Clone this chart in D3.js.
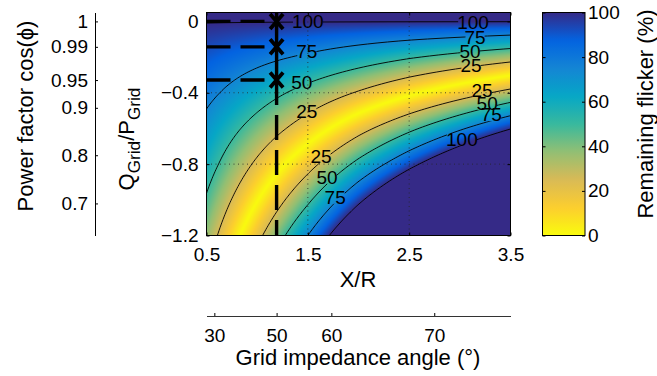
<!DOCTYPE html>
<html><head><meta charset="utf-8">
<script src="https://cdn.jsdelivr.net/npm/d3@7"></script>
<style>
html,body{margin:0;padding:0;background:#fff;}
svg{display:block;font-family:"Liberation Sans",Arial,Helvetica,sans-serif;}
</style></head><body>
<svg id="chart" width="657" height="376"></svg>
<script>
// ---------------- data ----------------
const xrValues = [0.5, 1.0, 1.5, 2.0, 2.5, 3.0, 3.5];          // X/R grid columns
const qpValues = [0.05, 0, -0.2, -0.4, -0.6, -0.8, -1.0, -1.2];   // Q/P grid rows
// signed relative flicker (%), remaining flicker = |value|; rows follow qpValues
const flickerSigned = [
  [104, 106, 108, 111, 113, 115, 118],
  [100.5, 100.5, 100.5, 100.5, 100.5, 100.5, 100.5],
  [90, 81, 72, 62, 52, 43, 34],
  [80, 61, 42, 23, 4, -14, -32],
  [69, 41, 13, -17, -45, -72, -99],
  [59, 21, -17, -56, -93, -129, -165],
  [48, 1, -46, -95, -142, -187, -232],
  [37, -19, -75, -134, -190, -245, -298]
];
const contourLevels = [25, 50, 75, 100];
const xTicks = [0.5, 1.5, 2.5, 3.5];
const yTicks = [0, -0.4, -0.8, -1.2];
const pfTicks = [1, 0.99, 0.95, 0.9, 0.8, 0.7];
const angleTicks = [30, 50, 60, 70];
const cbTicks = [0, 20, 40, 60, 80, 100];
const operatingAngle = 50;              // degrees
const operatingPF = [1, 0.99, 0.95];    // marked power factors
const labelText = ["100", "75", "50", "25", "100", "75", "50", "25", "25", "50", "75", "100", "25", "50", "75"];
const labelXR   = [1.50, 1.49, 1.44, 1.49, 3.13, 3.15, 3.10, 3.11, 3.22, 3.27, 3.31, 3.02, 1.63, 1.69, 1.77];
const labelQP   = [0.0, -0.165, -0.343, -0.505, -0.003, -0.086, -0.165, -0.243, -0.388, -0.46, -0.522, -0.661, -0.756, -0.873, -0.985];
const parulaColors = ["#f9fb0e", "#fcce2e", "#d9ba56", "#92bf73", "#38b99e", "#06a7c6", "#1485d4", "#0363e1", "#352a87"];

// ---------------- layout ----------------
const svg = d3.select("#chart");
const X0 = 206.5, X1 = 510.5, Y0 = 12.5, Y1 = 235.5;
const x = d3.scaleLinear().domain([0.5, 3.5]).range([X0, X1]);
const y = d3.scaleLinear().domain([-1.2, 0.05]).range([Y1, Y0]);
const color = d3.scaleLinear()
  .domain(d3.range(parulaColors.length).map(i => i * 100 / (parulaColors.length - 1)))
  .range(parulaColors).clamp(true);
const tickFont = 19, labelFont = 22;

function fieldAt(k, q) {
  let i = d3.bisectRight(xrValues, k) - 1;
  i = Math.max(0, Math.min(xrValues.length - 2, i));
  const tx = (k - xrValues[i]) / (xrValues[i + 1] - xrValues[i]);
  let j = 0;
  while (j < qpValues.length - 2 && q < qpValues[j + 1]) j++;
  const ty = (q - qpValues[j]) / (qpValues[j + 1] - qpValues[j]);
  const a = flickerSigned[j][i], b = flickerSigned[j][i + 1];
  const c = flickerSigned[j + 1][i], d = flickerSigned[j + 1][i + 1];
  return a * (1 - tx) * (1 - ty) + b * tx * (1 - ty) + c * (1 - tx) * ty + d * tx * ty;
}

const defs = svg.append("defs");
defs.append("clipPath").attr("id", "plotClip")
  .append("rect").attr("x", X0).attr("y", Y0).attr("width", X1 - X0).attr("height", Y1 - Y0);

// ---------------- heatmap ----------------
const W = Math.round(X1 - X0), H = Math.round(Y1 - Y0);
const cv = document.createElement("canvas");
cv.width = W; cv.height = H;
const ctx = cv.getContext("2d");
const img = ctx.createImageData(W, H);
for (let py = 0; py < H; py++) {
  const q = y.invert(Y0 + py + 0.5);
  for (let px = 0; px < W; px++) {
    const k = x.invert(X0 + px + 0.5);
    const c = d3.rgb(color(Math.abs(fieldAt(k, q))));
    const o = (py * W + px) * 4;
    img.data[o] = c.r; img.data[o + 1] = c.g; img.data[o + 2] = c.b; img.data[o + 3] = 255;
  }
}
ctx.putImageData(img, 0, 0);
svg.append("image").attr("x", X0).attr("y", Y0).attr("width", W).attr("height", H)
  .attr("preserveAspectRatio", "none").attr("href", cv.toDataURL());

// ---------------- grid lines ----------------
const grid = svg.append("g").attr("clip-path", "url(#plotClip)")
  .attr("stroke", "#262626").attr("stroke-width", 0.8).attr("stroke-dasharray", "1 3.5");
grid.selectAll("line.gx").data(xTicks.slice(1, -1)).join("line")
  .attr("x1", d => x(d)).attr("x2", d => x(d)).attr("y1", Y0).attr("y2", Y1);
grid.selectAll("line.gy").data(yTicks.slice(1, -1)).join("line")
  .attr("y1", d => y(d)).attr("y2", d => y(d)).attr("x1", X0).attr("x2", X1);

// ---------------- contour labels (text) ----------------
const labelsG = svg.append("g").attr("font-size", tickFont).attr("text-anchor", "middle");
const labelNodes = labelsG.selectAll("text").data(labelText).join("text")
  .attr("x", (d, i) => x(labelXR[i])).attr("y", (d, i) => y(labelQP[i]))
  .attr("dy", "0.36em").attr("fill", "#000").text(d => d);

// mask to break contour lines under labels
const mask = defs.append("mask").attr("id", "labelMask").attr("maskUnits", "userSpaceOnUse")
  .attr("x", 0).attr("y", 0).attr("width", 657).attr("height", 376);
mask.append("rect").attr("x", 0).attr("y", 0).attr("width", 657).attr("height", 376).attr("fill", "white");
labelNodes.each(function () {
  const b = this.getBBox();
  mask.append("rect").attr("x", b.x + 1).attr("y", b.y + b.height * 0.2)
    .attr("width", b.width - 2).attr("height", b.height * 0.6).attr("fill", "black");
});

// ---------------- contour lines ----------------
const M = 3, n = W + 2 * M, m = H + 2 * M;
const samples = new Array(n * m);
for (let j = 0; j < m; j++) {
  const q = y.invert(Y0 - M + j + 0.5);
  for (let i = 0; i < n; i++) {
    samples[j * n + i] = Math.abs(fieldAt(x.invert(X0 - M + i + 0.5), q));
  }
}
const contours = d3.contours().size([n, m]).thresholds(contourLevels)(samples);
const shift = d3.geoTransform({ point: function (px, py) { this.stream.point(X0 - M + px, Y0 - M + py); } });
svg.append("g").attr("clip-path", "url(#plotClip)")
  .append("g").attr("mask", "url(#labelMask)")
  .selectAll("path").data(contours).join("path")
  .attr("d", d3.geoPath(shift)).attr("fill", "none").attr("stroke", "#000").attr("stroke-width", 0.9);
labelsG.raise();

// ---------------- operating point markers ----------------
const qOf = pf => -Math.tan(Math.acos(pf));
const xrOp = Math.tan(operatingAngle * Math.PI / 180);
const op = svg.append("g").attr("clip-path", "url(#plotClip)").attr("stroke", "#000").attr("fill", "none");
op.selectAll("line.h").data(operatingPF).join("line")
  .attr("x1", x(0.5)).attr("x2", x(xrOp)).attr("y1", d => y(qOf(d))).attr("y2", d => y(qOf(d)))
  .attr("stroke-width", 3.4).attr("stroke-dasharray", "24 10");
op.append("line").attr("x1", x(xrOp)).attr("x2", x(xrOp))
  .attr("y1", y(0.05)).attr("y2", y(qOf(d3.min(operatingPF)))).attr("stroke-width", 3.4);
op.append("line").attr("x1", x(xrOp)).attr("x2", x(xrOp))
  .attr("y1", y(qOf(d3.min(operatingPF)))).attr("y2", y(-1.2))
  .attr("stroke-width", 3.4).attr("stroke-dasharray", "25 10");
svg.append("g").selectAll("path").data(operatingPF).join("path")
  .attr("transform", d => `translate(${x(xrOp)},${y(qOf(d))})`)
  .attr("d", "M-6.5,-7.5L6.5,7.5M-6.5,7.5L6.5,-7.5").attr("stroke", "#000").attr("stroke-width", 3.8)
  .attr("fill", "none");

// ---------------- main axes ----------------
const fmtY = d => d === 0 ? "0" : d3.format(".1f")(d);
function styleAxis(g) {
  g.selectAll("text").attr("font-size", tickFont).attr("fill", "#000")
    .attr("font-family", '"Liberation Sans",Arial,Helvetica,sans-serif');
  g.selectAll("line").attr("stroke", "#000");
  g.selectAll(".domain").attr("stroke", "#000");
}
svg.append("g").attr("transform", `translate(${X0},0)`)
  .call(d3.axisLeft(y).tickValues(yTicks).tickFormat(fmtY).tickSizeInner(-3).tickSizeOuter(0).tickPadding(8))
  .call(styleAxis).call(g => g.select(".domain").remove());
svg.append("g").attr("transform", `translate(${X1},0)`)
  .call(d3.axisRight(y).tickValues(yTicks).tickFormat("").tickSizeInner(-3).tickSizeOuter(0))
  .call(styleAxis).call(g => g.select(".domain").remove());
svg.append("g").attr("transform", `translate(0,${Y1})`)
  .call(d3.axisBottom(x).tickValues(xTicks).tickFormat(d3.format(".1f")).tickSizeInner(-3).tickSizeOuter(0).tickPadding(12))
  .call(styleAxis).call(g => g.select(".domain").remove());
svg.append("g").attr("transform", `translate(0,${Y0})`)
  .call(d3.axisTop(x).tickValues(xTicks).tickFormat("").tickSizeInner(-3).tickSizeOuter(0))
  .call(styleAxis).call(g => g.select(".domain").remove());
svg.append("rect").attr("x", X0).attr("y", Y0).attr("width", X1 - X0).attr("height", Y1 - Y0)
  .attr("fill", "none").attr("stroke", "#000").attr("stroke-width", 1);

// axis titles
const yl = svg.append("text").attr("transform", "translate(134,139) rotate(-90)")
  .attr("text-anchor", "middle").attr("font-size", labelFont).attr("fill", "#000");
yl.append("tspan").text("Q");
yl.append("tspan").attr("font-size", labelFont * 0.78).attr("dy", 6).text("Grid");
yl.append("tspan").attr("dy", -6).text("/P");
yl.append("tspan").attr("font-size", labelFont * 0.78).attr("dy", 6).text("Grid");
svg.append("text").attr("x", 358).attr("y", 287).attr("text-anchor", "middle")
  .attr("font-size", labelFont).attr("fill", "#000").text("X/R");

// ---------------- power factor axis ----------------
const pfFmt = d3.format("");
svg.append("g").attr("transform", "translate(95,0)")
  .call(d3.axisLeft(y).tickValues(pfTicks.map(qOf)).tickFormat((d, i) => pfFmt(pfTicks[i]))
    .tickSizeInner(-3).tickSizeOuter(0).tickPadding(7))
  .call(styleAxis);
svg.append("text").attr("transform", "translate(33,116) rotate(-90)").attr("text-anchor", "middle")
  .attr("font-size", labelFont).attr("fill", "#000").text("Power factor cos(ϕ)");

// ---------------- grid impedance angle axis ----------------
svg.append("g").attr("transform", "translate(0,316)")
  .call(d3.axisBottom(x).tickValues(angleTicks.map(a => Math.tan(a * Math.PI / 180)))
    .tickFormat((d, i) => angleTicks[i]).tickSizeInner(-3).tickSizeOuter(0).tickPadding(13))
  .call(styleAxis).call(g => g.select(".domain").attr("stroke", "#333"));
svg.append("text").attr("x", 358).attr("y", 365).attr("text-anchor", "middle")
  .attr("font-size", labelFont).attr("fill", "#000").text("Grid impedance angle (°)");

// ---------------- colorbar ----------------
const CX0 = 542.5, CX1 = 585;
const cb = d3.scaleLinear().domain([0, 100]).range([Y1, Y0]);
const grad = defs.append("linearGradient").attr("id", "cbGrad")
  .attr("x1", 0).attr("y1", 1).attr("x2", 0).attr("y2", 0);
d3.range(0, 101, 2).forEach(v => grad.append("stop").attr("offset", v / 100).attr("stop-color", color(v)));
svg.append("rect").attr("x", CX0).attr("y", Y0).attr("width", CX1 - CX0).attr("height", Y1 - Y0)
  .attr("fill", "url(#cbGrad)");
svg.append("g").attr("transform", `translate(${CX1},0)`)
  .call(d3.axisRight(cb).tickValues(cbTicks).tickSizeInner(-3).tickSizeOuter(0).tickPadding(3))
  .call(styleAxis).call(g => g.select(".domain").remove());
svg.append("g").attr("transform", `translate(${CX0},0)`)
  .call(d3.axisLeft(cb).tickValues(cbTicks).tickFormat("").tickSizeInner(-3).tickSizeOuter(0))
  .call(styleAxis).call(g => g.select(".domain").remove());
svg.append("rect").attr("x", CX0).attr("y", Y0).attr("width", CX1 - CX0).attr("height", Y1 - Y0)
  .attr("fill", "none").attr("stroke", "#000").attr("stroke-width", 1);
svg.append("text").attr("transform", "translate(653,114) rotate(-90)").attr("text-anchor", "middle")
  .attr("font-size", labelFont).attr("fill", "#000").text("Remaining flicker (%)");
</script>
</body></html>
